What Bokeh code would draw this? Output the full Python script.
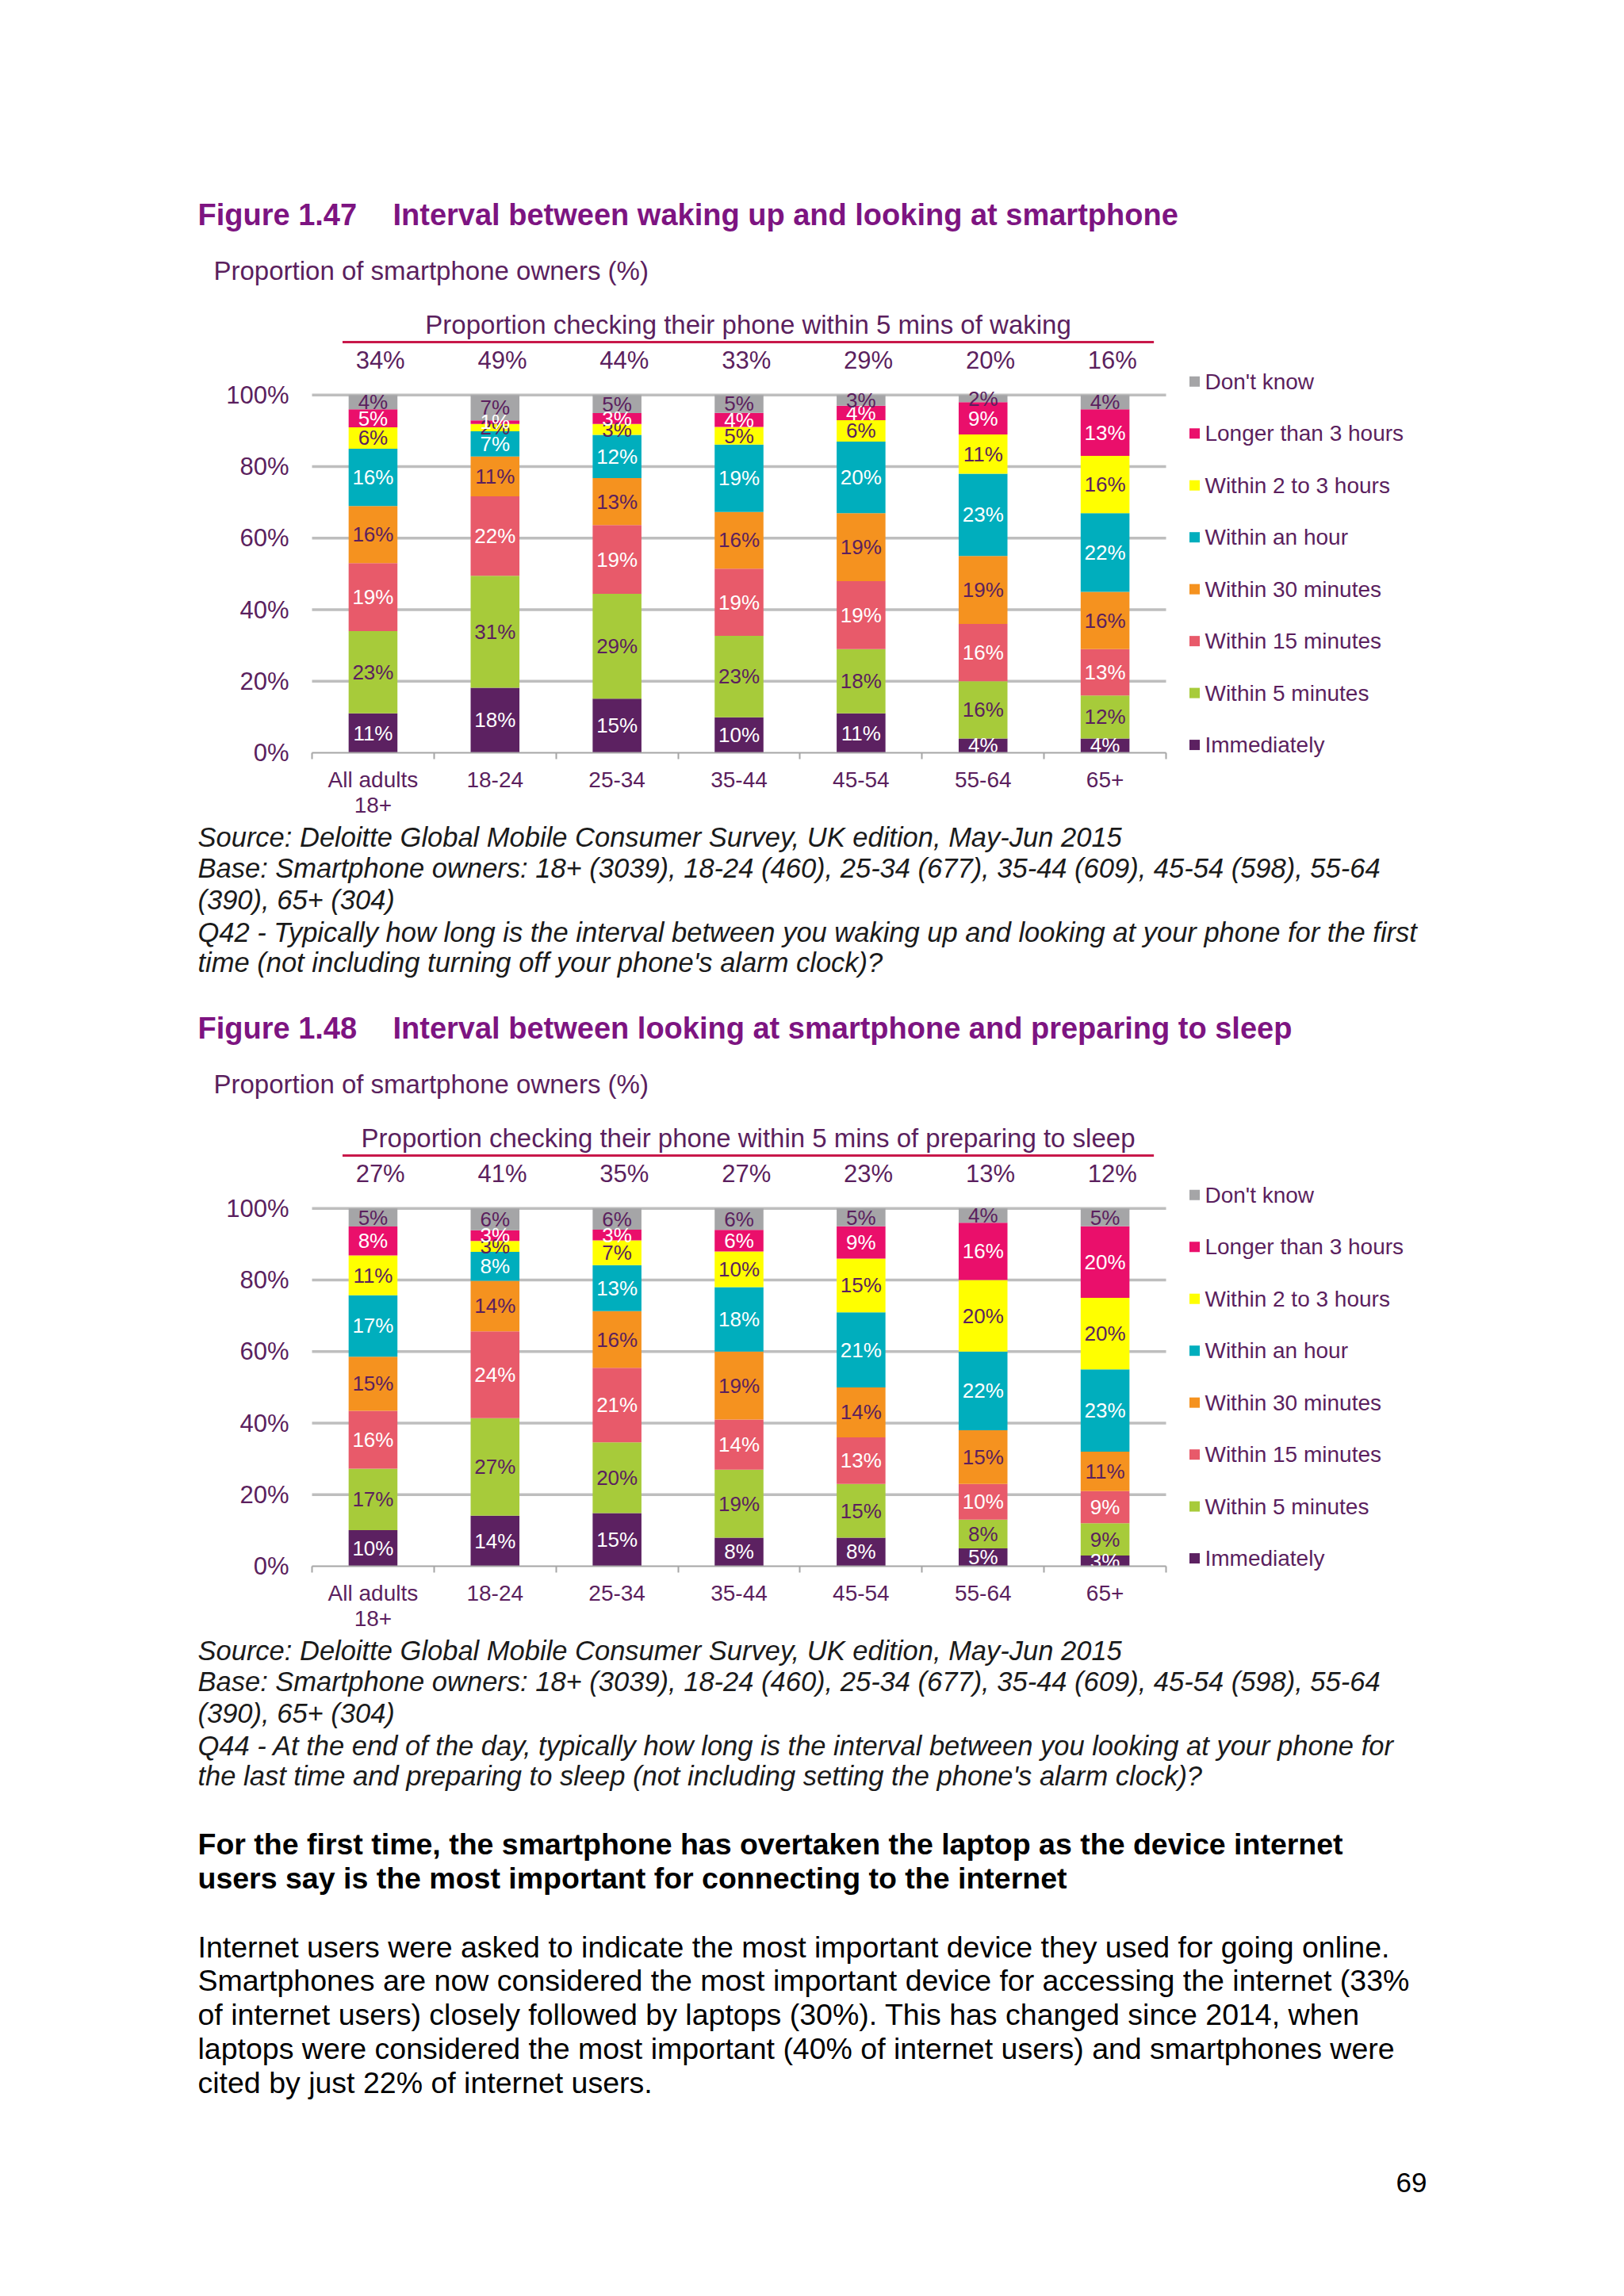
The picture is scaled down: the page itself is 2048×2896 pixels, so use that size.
from bokeh.plotting import figure
from bokeh.models import ColumnDataSource, Range1d, FixedTicker
from bokeh.layouts import column
from bokeh.core.properties import value
from bokeh.embed import file_html
from bokeh.resources import INLINE

# ---- data ----
ages = ["All adults\n18+", "18-24", "25-34", "35-44", "45-54", "55-64", "65+"]
series = ["Immediately", "Within 5 minutes", "Within 15 minutes", "Within 30 minutes",
          "Within an hour", "Within 2 to 3 hours", "Longer than 3 hours", "Don't know"]
y_ticks = [0, 20, 40, 60, 80, 100]
y_tick_labels = ["0%", "20%", "40%", "60%", "80%", "100%"]

# Figure 1.47 - waking up
wake_immediately = [11, 18, 15, 10, 11, 4, 4]
wake_5min = [23, 31, 29, 23, 18, 16, 12]
wake_15min = [19, 22, 19, 19, 19, 16, 13]
wake_30min = [16, 11, 13, 16, 19, 19, 16]
wake_hour = [16, 7, 12, 19, 20, 23, 22]
wake_2to3h = [6, 2, 3, 5, 6, 11, 16]
wake_over3h = [5, 1, 3, 4, 4, 9, 13]
wake_dont_know = [4, 7, 5, 5, 3, 2, 4]
wake_within5 = ["34%", "49%", "44%", "33%", "29%", "20%", "16%"]

# Figure 1.48 - preparing to sleep
sleep_immediately = [10, 14, 15, 8, 8, 5, 3]
sleep_5min = [17, 27, 20, 19, 15, 8, 9]
sleep_15min = [16, 24, 21, 14, 13, 10, 9]
sleep_30min = [15, 14, 16, 19, 14, 15, 11]
sleep_hour = [17, 8, 13, 18, 21, 22, 23]
sleep_2to3h = [11, 3, 7, 10, 15, 20, 20]
sleep_over3h = [8, 3, 3, 6, 9, 16, 20]
sleep_dont_know = [5, 6, 6, 6, 5, 4, 5]
sleep_within5 = ["27%", "41%", "35%", "27%", "23%", "13%", "12%"]

# ---- styling ----
FONT = value("Liberation Sans")
DARK = "#5B1F5E"
HEAD = "#7D1481"
BODY = "#1A1A1A"
colors = ["#5C2161", "#A7CB3A", "#E85A6A", "#F5921F", "#00AEBD", "#FFFF00", "#EA0F6B", "#A5A5A7"]
label_colors = ["white", DARK, "white", DARK, "white", DARK, "white", DARK]

W = 2040        # every figure shares the same frame (column aligns them)
LEFT = 200      # frame starts here for all figures
ORIGIN = 393    # page x of the first age group boundary
STEP = 153.86   # px per age group
X_START = (LEFT - ORIGIN) / STEP
X_END = (W - ORIGIN) / STEP
CHART_H = 650
PX_PER_PCT = 4.512
Y_START = -86 / PX_PER_PCT            # room under the axis for the age labels
Y_END = (CHART_H - 86) / PX_PER_PCT   # room above 100% for the annotation


def stacked_chart(layers, within5, note):
    p = figure(width=W, height=CHART_H, x_range=Range1d(X_START, X_END),
               y_range=Range1d(Y_START, Y_END),
               min_border_left=LEFT, min_border_right=0, min_border_top=0, min_border_bottom=0,
               output_backend="svg", toolbar_location=None)
    p.outline_line_color = None
    p.background_fill_color = "white"
    p.border_fill_color = "white"
    p.xgrid.visible = False
    p.ygrid.visible = False

    n = len(ages)
    xs = [i + 0.5 for i in range(n)]

    # gridlines only across the bar area
    grid_y = y_ticks[1:]
    p.segment(x0=[0] * len(grid_y), y0=grid_y, x1=[n] * len(grid_y), y1=grid_y,
              line_color="#BEBEBE", line_width=3.5)

    # 100% stacked: scale each column to its total
    totals = [sum(layer[i] for layer in layers) for i in range(n)]
    names = ["s%d" % k for k in range(len(layers))]
    data = {"x": xs}
    for k, layer in enumerate(layers):
        data[names[k]] = [layer[i] * 100.0 / totals[i] for i in range(n)]
    src = ColumnDataSource(data)
    p.vbar_stack(names, x="x", width=0.4, color=colors, line_color=None, source=src)

    # segment labels
    lx, ly, lt, lc = [], [], [], []
    for i in range(n):
        base = 0.0
        for k, layer in enumerate(layers):
            h = layer[i] * 100.0 / totals[i]
            lx.append(xs[i])
            ly.append(base + h / 2)
            lt.append("%d%%" % layer[i])
            lc.append(label_colors[k])
            base += h
    p.text(x="x", y="y", text="t", text_color="c",
           source=ColumnDataSource(dict(x=lx, y=ly, t=lt, c=lc)),
           text_font=FONT, text_font_size="26px", text_align="center", text_baseline="middle")
    # labels of thin bottom segments are cut at the baseline, as in Excel
    p.quad(left=[0], right=[n], bottom=[-5], top=[0], fill_color="white", line_color=None)

    # "within 5 mins" percentages, rule and caption above the bars
    p.text(x=[x + 0.06 for x in xs], y=[109.6] * n, text=within5, text_color=DARK,
           text_font=FONT, text_font_size="31px", text_align="center", text_baseline="middle")
    p.segment(x0=[0.25], y0=[114.8], x1=[6.9], y1=[114.8], line_color="#C8184A", line_width=3)
    p.text(x=[3.575], y=[119.6], text=[note], text_color=DARK, text_font=FONT,
           text_font_size="33px", text_align="center", text_baseline="middle")

    # legend, top entry = last series
    leg_y = [2.2 + k * 14.51 for k in range(len(series))]
    p.scatter(x=[7.234] * len(series), y=leg_y, marker="square", size=13,
              color=colors, line_color=None)
    p.text(x=[7.318] * len(series), y=leg_y, text=series, text_color=DARK, text_font=FONT,
           text_font_size="28px", text_align="left", text_baseline="middle")

    # axes, both pinned inside the frame
    xa = p.xaxis[0]
    xa.fixed_location = 0
    xa.ticker = FixedTicker(ticks=xs, minor_ticks=list(range(n + 1)))
    xa.major_label_overrides = {x: ages[i] for i, x in enumerate(xs)}
    xa.bounds = (0, n)
    xa.axis_line_color = "#A6A6A6"
    xa.axis_line_width = 2
    xa.major_tick_line_color = None
    xa.major_tick_out = 0
    xa.major_tick_in = 0
    xa.minor_tick_line_color = "#A6A6A6"
    xa.minor_tick_line_width = 2
    xa.minor_tick_out = 8
    xa.minor_tick_in = 0
    xa.major_label_standoff = 10
    xa.major_label_text_font = "Liberation Sans"
    xa.major_label_text_font_size = "28px"
    xa.major_label_text_line_height = 1.05
    xa.major_label_text_color = DARK

    ya = p.yaxis[0]
    ya.fixed_location = 0
    ya.ticker = FixedTicker(ticks=y_ticks)
    ya.major_label_overrides = {t: y_tick_labels[i] for i, t in enumerate(y_ticks)}
    ya.axis_line_color = None
    ya.major_tick_line_color = None
    ya.minor_tick_line_color = None
    ya.major_tick_out = 0
    ya.major_tick_in = 0
    ya.major_label_standoff = 29
    ya.major_label_text_font = "Liberation Sans"
    ya.major_label_text_font_size = "31px"
    ya.major_label_text_color = DARK
    return p


def text_panel(top, bottom, lines):
    p = figure(width=W, height=bottom - top, x_range=Range1d(LEFT, W),
               y_range=Range1d(bottom, top), x_axis_type=None, y_axis_type=None,
               min_border_left=LEFT, min_border_right=0, min_border_top=0, min_border_bottom=0,
               output_backend="svg", toolbar_location=None)
    p.outline_line_color = None
    p.background_fill_color = "white"
    p.border_fill_color = "white"
    for x, y, txt, size, style, color in lines:
        p.text(x=[x], y=[y], text=[txt], text_color=color, text_font=FONT,
               text_font_size=size, text_font_style=style,
               text_align="left", text_baseline="middle")
    return p


source_line = "Source: Deloitte Global Mobile Consumer Survey, UK edition, May-Jun 2015"
base_line1 = "Base: Smartphone owners: 18+ (3039), 18-24 (460), 25-34 (677), 35-44 (609), 45-54 (598), 55-64"
base_line2 = "(390), 65+ (304)"
q42 = ["Q42 - Typically how long is the interval between you waking up and looking at your phone for the first",
       "time (not including turning off your phone's alarm clock)?"]
q44 = ["Q44 - At the end of the day, typically how long is the interval between you looking at your phone for",
       "the last time and preparing to sleep (not including setting the phone's alarm clock)?"]
bold_para = ["For the first time, the smartphone has overtaken the laptop as the device internet",
             "users say is the most important for connecting to the internet"]
para = ["Internet users were asked to indicate the most important device they used for going online.",
        "Smartphones are now considered the most important device for accessing the internet (33%",
        "of internet users) closely followed by laptops (30%). This has changed since 2014, when",
        "laptops were considered the most important (40% of internet users) and smartphones were",
        "cited by just 22% of internet users."]

BODY_SIZE = "34.5px"
HEAD_SIZE = "38px"

header = text_panel(0, 385, [
    (249, 270, "Figure 1.47", HEAD_SIZE, "bold", HEAD),
    (495, 270, "Interval between waking up and looking at smartphone", HEAD_SIZE, "bold", HEAD),
    (269, 341, "Proportion of smartphone owners (%)", "33px", "normal", DARK),
])

chart1 = stacked_chart([wake_immediately, wake_5min, wake_15min, wake_30min, wake_hour,
                        wake_2to3h, wake_over3h, wake_dont_know], wake_within5,
                       "Proportion checking their phone within 5 mins of waking")

middle = text_panel(1035, 1411, [
    (249, 1055, source_line, BODY_SIZE, "italic", BODY),
    (249, 1094, base_line1, BODY_SIZE, "italic", BODY),
    (249, 1134, base_line2, BODY_SIZE, "italic", BODY),
    (249, 1175, q42[0], BODY_SIZE, "italic", BODY),
    (249, 1213, q42[1], BODY_SIZE, "italic", BODY),
    (249, 1296, "Figure 1.48", HEAD_SIZE, "bold", HEAD),
    (495, 1296, "Interval between looking at smartphone and preparing to sleep", HEAD_SIZE, "bold", HEAD),
    (269, 1367, "Proportion of smartphone owners (%)", "33px", "normal", DARK),
])

chart2 = stacked_chart([sleep_immediately, sleep_5min, sleep_15min, sleep_30min, sleep_hour,
                        sleep_2to3h, sleep_over3h, sleep_dont_know], sleep_within5,
                       "Proportion checking their phone within 5 mins of preparing to sleep")

bottom_lines = [
    (249, 2081, source_line, BODY_SIZE, "italic", BODY),
    (249, 2120, base_line1, BODY_SIZE, "italic", BODY),
    (249, 2160, base_line2, BODY_SIZE, "italic", BODY),
    (249, 2201, q44[0], BODY_SIZE, "italic", BODY),
    (249, 2239, q44[1], BODY_SIZE, "italic", BODY),
    (249, 2325, bold_para[0], "37.5px", "bold", "black"),
    (249, 2368, bold_para[1], "37.5px", "bold", "black"),
]
for i, line in enumerate(para):
    bottom_lines.append((249, 2455 + i * 42.8, line, "37.5px", "normal", "black"))
bottom_lines.append((1760, 2752, "69", "35px", "normal", "black"))
bottom = text_panel(2061, 2888, bottom_lines)

page = column(header, chart1, middle, chart2, bottom, spacing=0)
open("out.html", "w").write(file_html(page, INLINE))
